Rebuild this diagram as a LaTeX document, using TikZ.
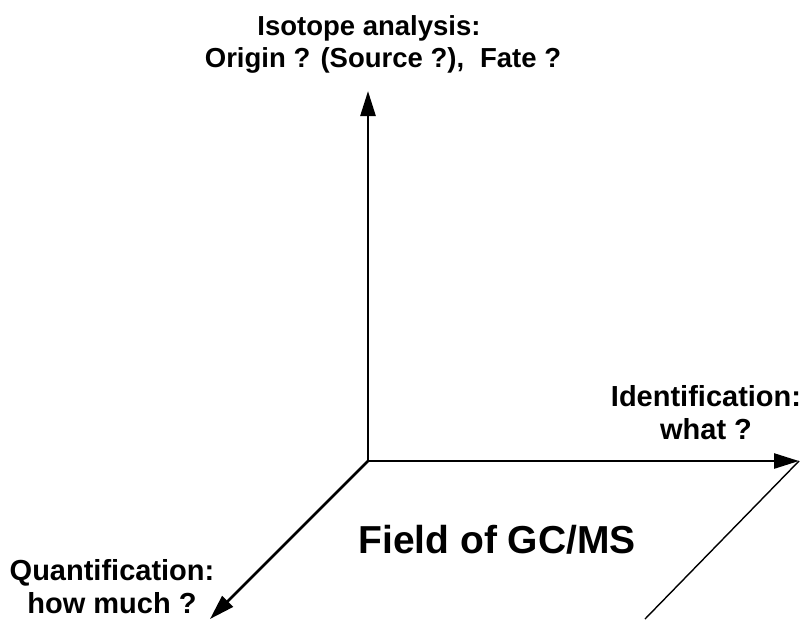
\documentclass[tikz,border=0pt]{standalone}
\usepackage{tikz, xcolor}
\usepackage{fontspec}
\setmainfont{Liberation Sans}
\usetikzlibrary{shapes,arrows.meta}

\begin{document}
\begin{tikzpicture}[x=1pt, y=-1pt]
\tikzstyle{axisline}=[line width=2.6pt, -{Triangle[length=25pt, width=15pt]}]
\tikzstyle{edgeline}=[line width=1.4pt]
\tikzstyle{labeltext}=[align=center, inner sep=0pt, font=\bfseries\fontsize{29}{33}\selectfont]
\tikzstyle{toptext}=[inner sep=0pt, anchor=base, font=\bfseries\fontsize{27.5}{33}\selectfont]
\tikzstyle{fieldtext}=[inner sep=0pt, font=\bfseries\fontsize{39}{42}\selectfont]

\useasboundingbox (0,0) rectangle (805,619);

\coordinate (O) at (368,461);
\coordinate (Top) at (368,91);
\coordinate (Right) at (799,461);
\coordinate (Left) at (210,619);
\coordinate (Corner) at (645,619);

\draw[axisline] (O) -- (Top);
\draw[axisline] (O) -- (Right);
\draw[axisline] (O) -- (Left);
\draw[edgeline] (Right) -- (Corner);

\node[toptext] (Iso) at (369,35) {Isotope analysis:};
\node[toptext] (Orig) at (383,67) {Origin ? (Source ?),\hspace{16pt}Fate ?};
\node[labeltext] (Ident) at (706,413) {Identification:\\what ?};
\node[labeltext] (Quant) at (112,587) {Quantification:\\how much ?};
\node[fieldtext] (Field) at (497,540) {Field of GC/MS};
\end{tikzpicture}
\end{document}
